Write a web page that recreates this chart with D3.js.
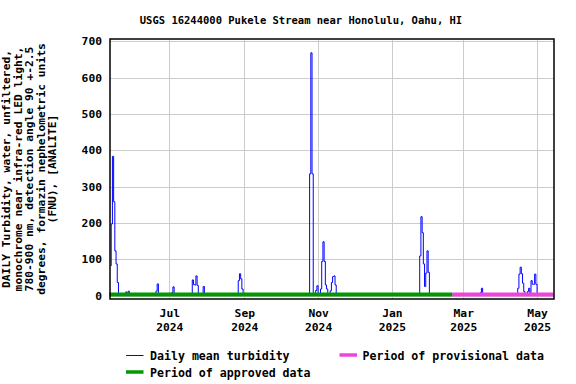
<!DOCTYPE html>
<html>
<head>
<meta charset="utf-8">
<script src="https://cdn.jsdelivr.net/npm/d3@7"></script>
<style>
  body { margin: 0; background: #fff; }
  svg { display: block; }
  text { font-family: "DejaVu Sans Mono", monospace; font-weight: bold; fill: #000; }
</style>
</head>
<body>
<svg id="chart"></svg>
<script>
// daily mean turbidity (FNU)
var dates = [
  "2024-05-13","2024-05-14","2024-05-15","2024-05-16","2024-05-17","2024-05-18","2024-05-19","2024-05-20",
  "2024-05-25","2024-05-26","2024-05-27","2024-05-28","2024-05-29",
  "2024-06-19","2024-06-20","2024-06-21","2024-06-22","2024-06-23",
  "2024-07-02","2024-07-03","2024-07-04","2024-07-05","2024-07-06",
  "2024-07-19","2024-07-20","2024-07-21","2024-07-22","2024-07-23","2024-07-24","2024-07-25",
  "2024-07-27","2024-07-28","2024-07-29","2024-07-30","2024-07-31",
  "2024-08-25","2024-08-26","2024-08-27","2024-08-28","2024-08-29","2024-08-30","2024-08-31",
  "2024-10-23","2024-10-24","2024-10-25","2024-10-26","2024-10-27","2024-10-28","2024-10-29",
  "2024-10-30","2024-10-31","2024-11-01","2024-11-02","2024-11-03","2024-11-04","2024-11-05",
  "2024-11-06","2024-11-07","2024-11-08","2024-11-09","2024-11-10","2024-11-11","2024-11-12",
  "2024-11-13","2024-11-14","2024-11-15","2024-11-16","2024-11-17",
  "2025-01-22","2025-01-23","2025-01-24","2025-01-25","2025-01-26","2025-01-27","2025-01-28",
  "2025-01-29","2025-01-30","2025-01-31","2025-02-01","2025-02-02",
  "2025-03-14","2025-03-15","2025-03-16","2025-03-17","2025-03-18",
  "2025-04-14","2025-04-15","2025-04-16","2025-04-17","2025-04-18","2025-04-19","2025-04-20",
  "2025-04-21","2025-04-22","2025-04-23","2025-04-24","2025-04-25","2025-04-26","2025-04-27",
  "2025-04-28","2025-04-29","2025-04-30","2025-05-01","2025-05-02","2025-05-13"
];
var turbidity = [
  82, 197, 383, 258, 123, 87, 36, 3,
  2, 10, 3, 12, 2,
  2, 12, 32, 5, 2,
  2, 8, 24, 4, 2,
  3, 43, 30, 29, 54, 28, 4,
  2, 6, 25, 5, 2,
  2, 4, 41, 60, 46, 18, 3,
  2, 3, 335, 668, 335, 3, 2,
  14, 27, 4, 3, 18, 94, 148,
  94, 29, 18, 3, 2, 13, 36,
  52, 54, 29, 3, 2,
  2, 4, 109, 217, 173, 87, 25,
  62, 123, 64, 3, 2,
  2, 8, 20, 4, 2,
  2, 20, 59, 78, 60, 34, 11,
  3, 4, 11, 20, 4, 41, 31,
  31, 59, 31, 3, 2, 2
];

// approval periods
var periodNames = ["approved", "provisional"];
var periodStart = ["2024-05-12 12", "2025-02-20 00"];
var periodEnd = ["2025-02-20 00", "2025-05-14 12"];

var monthTicks = ["2024-07-01", "2024-09-01", "2024-11-01", "2025-01-01", "2025-03-01", "2025-05-01"];
var monthLabels = ["Jul", "Sep", "Nov", "Jan", "Mar", "May"];
var yearLabels = ["2024", "2024", "2024", "2025", "2025", "2025"];
var yTicks = [0, 100, 200, 300, 400, 500, 600, 700];

var yTitle = [
  "DAILY Turbidity, water, unfiltered,",
  "monochrome near infra-red LED light,",
  "780-900 nm, detection angle 90 +-2.5",
  "degrees, formazin nephelometric units",
  "(FNU), [ANALITE]"
];

var draw = function() {

  var W = 576, H = 384;
  var margin = { top: 39, right: 22, bottom: 85, left: 110 },
    width = W - margin.left - margin.right,
    height = H - margin.top - margin.bottom;

  var parseDay = d3.timeParse("%Y-%m-%d");
  var parseHour = d3.timeParse("%Y-%m-%d %H");

  var points = dates.map(function(d, i) {
    return { date: d3.timeHour.offset(parseDay(d), 12), value: turbidity[i] };
  });

  var svg = d3.select("#chart")
    .attr("width", W)
    .attr("height", H);

  svg.append("rect").attr("width", W).attr("height", H).attr("fill", "#fff");

  var g = svg.append("g")
    .attr("transform", "translate(" + margin.left + "," + margin.top + ")");

  var x = d3.scaleTime()
    .domain([parseDay("2024-05-13"), parseDay("2025-05-15")])
    .range([0, width]);

  var y = d3.scaleLinear()
    .domain([-9.5, 706])
    .range([height, 0]);

  var tickDates = monthTicks.map(parseDay);

  // grid
  g.append("g")
    .selectAll("line")
    .data(tickDates)
    .enter().append("line")
    .attr("x1", function(d) { return Math.round(x(d)) + 0.5; })
    .attr("x2", function(d) { return Math.round(x(d)) + 0.5; })
    .attr("y1", 0).attr("y2", height)
    .attr("stroke", "#cccccc").attr("stroke-width", 1);

  g.append("g")
    .selectAll("line")
    .data(yTicks)
    .enter().append("line")
    .attr("x1", 0).attr("x2", width)
    .attr("y1", function(d) { return Math.round(y(d)) + 0.5; })
    .attr("y2", function(d) { return Math.round(y(d)) + 0.5; })
    .attr("stroke", "#cccccc").attr("stroke-width", 1);

  // turbidity line, drawn as daily steps
  var line = d3.line()
    .curve(d3.curveStep)
    .x(function(d) { return x(d.date); })
    .y(function(d) { return y(d.value); });

  g.append("path")
    .datum(points)
    .attr("fill", "none")
    .attr("stroke", "#0000ff")
    .attr("stroke-width", 1)
    .attr("d", line);

  // approval period bars
  var periodColor = { approved: "#009900", provisional: "#ee44dd" };
  g.selectAll("line.period")
    .data(periodNames)
    .enter().append("line")
    .attr("class", "period")
    .attr("x1", function(d, i) { return x(parseHour(periodStart[i])); })
    .attr("x2", function(d, i) { return x(parseHour(periodEnd[i])); })
    .attr("y1", y(0) - 1)
    .attr("y2", y(0) - 1)
    .attr("stroke", function(d) { return periodColor[d]; })
    .attr("stroke-width", 4);

  // frame
  g.append("rect")
    .attr("x", 0).attr("y", 0)
    .attr("width", width).attr("height", height)
    .attr("fill", "none")
    .attr("stroke", "#000")
    .attr("stroke-width", 1.5);

  // y axis
  var yAxis = g.append("g")
    .call(d3.axisLeft(y).tickValues(yTicks).tickSize(0).tickPadding(8));
  yAxis.select(".domain").remove();
  yAxis.selectAll("text")
    .attr("font-family", "DejaVu Sans Mono")
    .attr("font-weight", "bold")
    .attr("font-size", 11.3)
    .attr("fill", "#000");

  // x axis, two-line labels
  var xAxis = g.append("g")
    .attr("transform", "translate(0," + height + ")")
    .call(d3.axisBottom(x).tickValues(tickDates).tickSize(0).tickFormat(""));
  xAxis.select(".domain").remove();
  xAxis.selectAll(".tick").each(function(d, i) {
    var t = d3.select(this).append("text")
      .attr("text-anchor", "middle")
      .attr("font-size", 11.3);
    t.append("tspan").attr("x", 0).attr("y", 18).text(monthLabels[i]);
    t.append("tspan").attr("x", 0).attr("y", 31.5).text(yearLabels[i]);
  });

  // title
  svg.append("text")
    .attr("x", 301)
    .attr("y", 24)
    .attr("text-anchor", "middle")
    .attr("font-size", 10.5)
    .text("USGS 16244000 Pukele Stream near Honolulu, Oahu, HI");

  // y title
  var yt = svg.append("text")
    .attr("transform", "translate(0," + (margin.top + height / 2) + ") rotate(-90)")
    .attr("text-anchor", "middle")
    .attr("font-size", 11.3);
  yTitle.forEach(function(s, i) {
    yt.append("tspan").attr("x", 0).attr("y", 10 + i * 11.6).text(s);
  });

  // legend
  var legend = svg.append("g");
  legend.append("line")
    .attr("x1", 126).attr("x2", 143.5)
    .attr("y1", 355.5).attr("y2", 355.5)
    .attr("stroke", "#0000ff").attr("stroke-width", 1);
  legend.append("text").attr("x", 150).attr("y", 360).attr("font-size", 11.6)
    .text("Daily mean turbidity");

  legend.append("line")
    .attr("x1", 339.5).attr("x2", 357)
    .attr("y1", 355).attr("y2", 355)
    .attr("stroke", periodColor.provisional).attr("stroke-width", 3.5);
  legend.append("text").attr("x", 362.5).attr("y", 360).attr("font-size", 11.6)
    .text("Period of provisional data");

  legend.append("line")
    .attr("x1", 126).attr("x2", 143.5)
    .attr("y1", 372).attr("y2", 372)
    .attr("stroke", periodColor.approved).attr("stroke-width", 3.5);
  legend.append("text").attr("x", 150).attr("y", 376.5).attr("font-size", 11.6)
    .text("Period of approved data");
};

draw();
</script>
</body>
</html>
